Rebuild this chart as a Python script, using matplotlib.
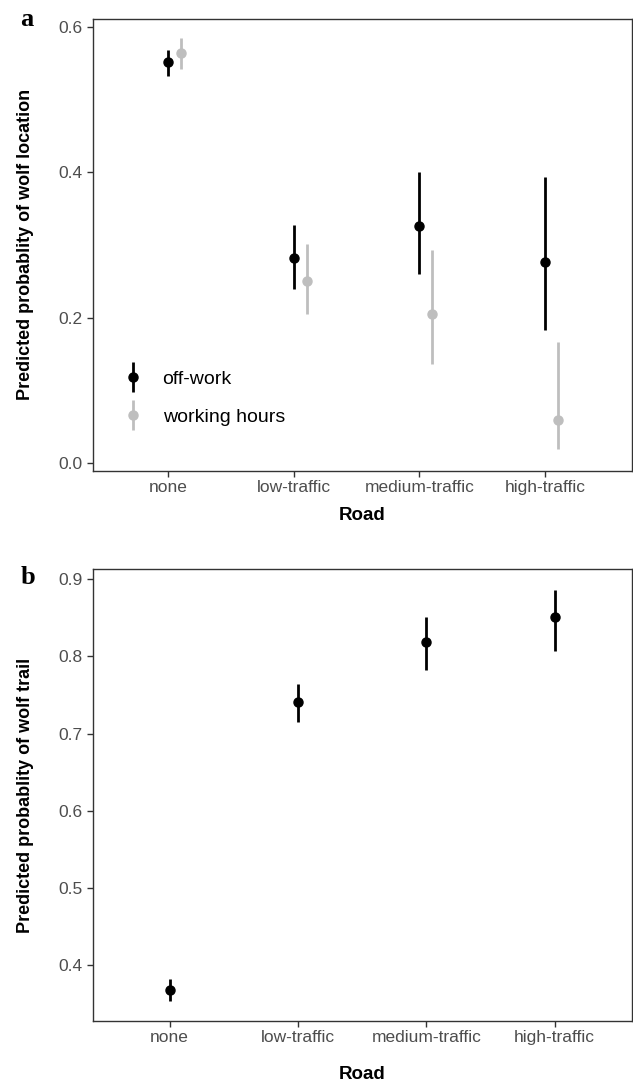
import matplotlib
matplotlib.use("Agg")
import matplotlib.pyplot as plt
from matplotlib.container import ErrorbarContainer
from matplotlib.legend_handler import HandlerErrorbar
import numpy as np

plt.rcParams['font.family'] = ['Liberation Sans', 'DejaVu Sans']

# data
roads = ["none", "low-traffic", "medium-traffic", "high-traffic"]

# panel a: wolf location
offwork_est = [0.551, 0.282, 0.326, 0.276]
offwork_lo = [0.532, 0.240, 0.260, 0.183]
offwork_hi = [0.568, 0.327, 0.400, 0.393]
working_est = [0.564, 0.251, 0.205, 0.059]
working_lo = [0.542, 0.205, 0.137, 0.019]
working_hi = [0.584, 0.302, 0.293, 0.167]

# panel b: wolf trail
trail_est = [0.368, 0.741, 0.819, 0.851]
trail_lo = [0.354, 0.715, 0.782, 0.807]
trail_hi = [0.382, 0.765, 0.851, 0.886]

W, H = 633, 1086
fig = plt.figure(figsize=(W / 100, H / 100), dpi=100)

spine_col = "#333333"
tick_col = "#4d4d4d"
grey = "#bebebe"


def style(ax):
    for s in ax.spines.values():
        s.set_color(spine_col)
        s.set_linewidth(1.0)
    ax.tick_params(colors=spine_col, labelcolor=tick_col, labelsize=12.5,
                   length=4, width=1.0, pad=3)
    ax.set_xticks(np.arange(1, 5))
    ax.set_xticklabels(roads)
    ax.set_xlabel("Road", fontsize=13.5, fontweight="bold")


def pointrange(ax, x, est, lo, hi, color, label=None):
    est = np.array(est)
    yerr = [est - np.array(lo), np.array(hi) - est]
    ax.errorbar(x, est, yerr=yerr, fmt="o", color=color, ecolor=color,
                elinewidth=2.0, markersize=6.5, capsize=0, label=label)


# panel a
ax1 = fig.add_axes([92.7 / W, 1 - 470.7 / H, (631.7 - 92.7) / W, (470.7 - 19) / H])
x = np.arange(1, 5)
pointrange(ax1, x, offwork_est, offwork_lo, offwork_hi, "black", "off-work")
pointrange(ax1, x + 0.103, working_est, working_lo, working_hi, grey, "working hours")
ax1.set_xlim(0.4, 4.69)
ax1.set_ylim(-0.0102, 0.6106)
ax1.set_yticks([0.0, 0.2, 0.4, 0.6])
ax1.set_yticklabels(["0.0", "0.2", "0.4", "0.6"])
style(ax1)
ax1.set_ylabel("Predicted probablity of wolf location", fontsize=13,
               fontweight="bold")
ax1.yaxis.set_label_coords((34 - 92.7) / 539, 0.5)
ax1.xaxis.set_label_coords(0.5, (470.7 - 507) / 451.7)
ax1.legend(loc="center left", bbox_to_anchor=((114 - 92.7) / 539, (470.7 - 398) / 451.7),
           frameon=False, fontsize=14, handlelength=2.0, handletextpad=0.5,
           labelspacing=1.05, borderpad=0, borderaxespad=0,
           handler_map={ErrorbarContainer: HandlerErrorbar(yerr_size=0.77)})

# panel b
ax2 = fig.add_axes([92.7 / W, 1 - 1020.7 / H, (631.7 - 92.7) / W, (1020.7 - 569.3) / H])
pointrange(ax2, x, trail_est, trail_lo, trail_hi, "black")
ax2.set_xlim(0.4, 4.6)
ax2.set_ylim(0.328, 0.913)
ax2.set_yticks([0.4, 0.5, 0.6, 0.7, 0.8, 0.9])
style(ax2)
ax2.set_ylabel("Predicted probablity of wolf trail", fontsize=13,
               fontweight="bold")
ax2.yaxis.set_label_coords((34 - 92.7) / 539, 0.5)
ax2.xaxis.set_label_coords(0.5, (1020.7 - 1066) / 451.4)

fig.text(27 / W, 1 - 20 / H, "a", fontsize=19, fontweight="bold",
         family="Liberation Serif", ha="center", va="center")
fig.text(28 / W, 1 - 578 / H, "b", fontsize=19, fontweight="bold",
         family="Liberation Serif", ha="center", va="center")

fig.savefig("out.png", dpi=100)
